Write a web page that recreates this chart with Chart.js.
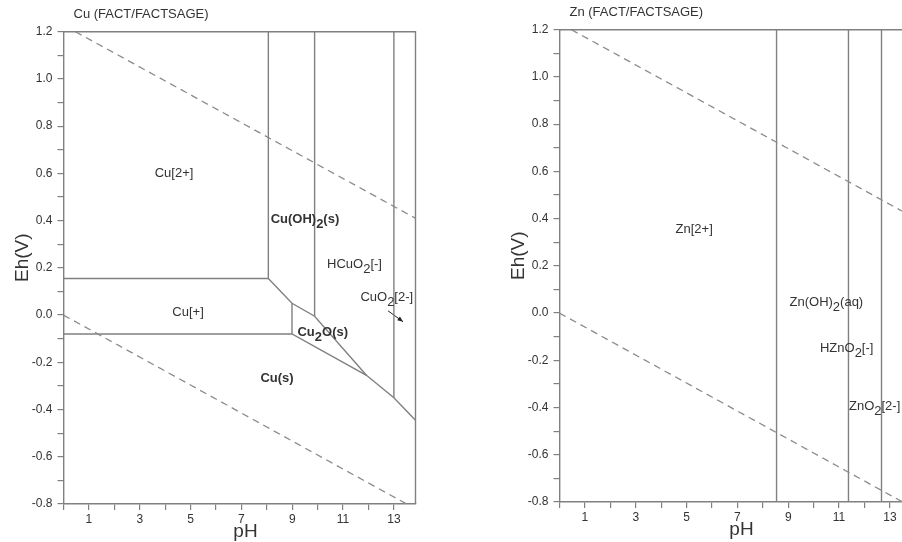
<!DOCTYPE html>
<html>
<head>
<meta charset="utf-8">
<script src="https://cdn.jsdelivr.net/npm/chart.js@4.4.1/dist/chart.umd.min.js"></script>
<style>
  html, body { margin: 0; padding: 0; background: #fff; overflow: hidden; }
  body { width: 902px; height: 542px; position: relative; }
  canvas { position: absolute; }
  #cu { left: 0; top: 0; }
  #zn { left: 496px; top: -2px; }
</style>
</head>
<body>
<canvas id="cu" width="440" height="542"></canvas>
<canvas id="zn" width="440" height="542"></canvas>
<script>
// axis ticks
const xTickLabels = [1, 3, 5, 7, 9, 11, 13];
const yTickLabels = [-0.8, -0.6, -0.4, -0.2, 0.0, 0.2, 0.4, 0.6, 0.8, 1.0, 1.2];

// water stability lines (pH, Eh)
const waterUpper = [[0.47, 1.2], [13.85, 0.41]];
const waterLower = [[0, 0], [13.5, -0.8]];

// Cu boundaries
const cuLine1 = [[8.06, 1.2], [8.06, 0.155], [0, 0.155]];
const cuLine2 = [[9.88, 1.2], [9.88, -0.005]];
const cuLine3 = [[13.0, 1.2], [13.0, -0.35]];
const cuLine4 = [[8.06, 0.155], [8.99, 0.05], [9.88, -0.005], [11.92, -0.255]];
const cuLine5 = [[8.99, 0.05], [8.99, -0.08]];
const cuLine6 = [[0, -0.08], [8.99, -0.08], [11.92, -0.255], [13.0, -0.35], [13.85, -0.445]];
const cuArrow = [[12.77, 0.018], [13.36, -0.028]];

// Cu labels: [pH, Eh, text parts (odd = subscript), bold]
const cuLabels = [
  [4.35, 0.60, ['Cu[2+]'], false],
  [9.5, 0.405, ['Cu(OH)', '2', '(s)'], true],
  [11.45, 0.215, ['HCuO', '2', '[-]'], false],
  [12.72, 0.075, ['CuO', '2', '[2-]'], false],
  [4.9, 0.01, ['Cu[+]'], false],
  [10.2, -0.075, ['Cu', '2', 'O(s)'], true],
  [8.4, -0.27, ['Cu(s)'], true]
];

// Zn boundaries
const znLine1 = [[8.54, 1.2], [8.54, -0.8]];
const znLine2 = [[11.37, 1.2], [11.37, -0.8]];
const znLine3 = [[12.67, 1.2], [12.67, -0.8]];

const znLabels = [
  [5.3, 0.355, ['Zn[2+]'], false],
  [10.5, 0.045, ['Zn(OH)', '2', '(aq)'], false],
  [11.3, -0.15, ['HZnO', '2', '[-]'], false],
  [12.4, -0.395, ['ZnO', '2', '[2-]'], false]
];

const lineColor = '#808080';
const textColor = '#333';
const fontFamily = "'Liberation Sans', Arial, sans-serif";

const toPts = arr => arr.map(([x, y]) => ({ x: x, y: y }));

const solid = arr => ({
  data: toPts(arr), showLine: true, borderColor: lineColor, borderWidth: 1.4,
  pointRadius: 0, fill: false
});
const dashed = arr => ({
  data: toPts(arr), showLine: true, borderColor: '#8c8c8c', borderWidth: 1.3,
  borderDash: [7, 5], pointRadius: 0, fill: false
});

function drawRich(ctx, parts, cx, cy, bold) {
  ctx.font = (bold ? 'bold ' : '') + '13px ' + fontFamily;
  let w = 0;
  parts.forEach(p => { w += ctx.measureText(p).width; });
  let x = cx - w / 2;
  ctx.textAlign = 'left';
  ctx.textBaseline = 'middle';
  parts.forEach((p, i) => {
    ctx.fillText(p, x, i % 2 ? cy + 5 : cy);
    x += ctx.measureText(p).width;
  });
}

const decor = {
  id: 'decor',
  afterDatasetsDraw(chart, args, opts) {
    const ctx = chart.ctx;
    const a = chart.chartArea;
    const xs = chart.scales.x, ys = chart.scales.y;
    ctx.save();
    // frame
    ctx.strokeStyle = lineColor;
    ctx.lineWidth = 1.4;
    ctx.beginPath();
    ctx.moveTo(a.left, a.top);
    ctx.lineTo(a.right, a.top);
    ctx.lineTo(a.right, a.bottom);
    ctx.stroke();
    ctx.fillStyle = textColor;
    // region labels
    opts.labels.forEach(([px, ey, parts, bold]) => {
      drawRich(ctx, parts, xs.getPixelForValue(px), ys.getPixelForValue(ey), bold);
    });
    // arrow head
    if (opts.arrow) {
      const p0 = opts.arrow[0], p1 = opts.arrow[1];
      const x0 = xs.getPixelForValue(p0[0]), y0 = ys.getPixelForValue(p0[1]);
      const x1 = xs.getPixelForValue(p1[0]), y1 = ys.getPixelForValue(p1[1]);
      const ang = Math.atan2(y1 - y0, x1 - x0);
      ctx.fillStyle = '#222';
      ctx.beginPath();
      ctx.moveTo(x1, y1);
      ctx.lineTo(x1 - 6 * Math.cos(ang - 0.4), y1 - 6 * Math.sin(ang - 0.4));
      ctx.lineTo(x1 - 6 * Math.cos(ang + 0.4), y1 - 6 * Math.sin(ang + 0.4));
      ctx.closePath();
      ctx.fill();
    }
    // title
    ctx.fillStyle = textColor;
    ctx.font = '13px ' + fontFamily;
    ctx.textAlign = 'left';
    ctx.textBaseline = 'middle';
    ctx.fillText(opts.title, a.left + 10, a.top - 17);
    // axis titles
    ctx.font = '19px ' + fontFamily;
    ctx.textAlign = 'center';
    ctx.fillText('pH', a.left + 182, a.bottom + 28);
    ctx.save();
    ctx.translate(a.left - 41, a.top + 226);
    ctx.rotate(-Math.PI / 2);
    ctx.fillText('Eh(V)', 0, 0);
    ctx.restore();
    ctx.restore();
  }
};

function makeChart(id, lines, title, labels, arrow) {
  const datasets = [dashed(waterUpper), dashed(waterLower)].concat(lines.map(solid));
  if (arrow) {
    datasets.push({ data: toPts(arrow), showLine: true, borderColor: '#222', borderWidth: 1, pointRadius: 0 });
  }
  const tickFont = { family: fontFamily, size: 12 };
  return new Chart(document.getElementById(id), {
    type: 'scatter',
    data: { datasets: datasets },
    options: {
      responsive: false,
      animation: false,
      events: [],
      layout: { padding: { top: 31.7, right: 24.5, left: 0, bottom: 0 } },
      plugins: {
        legend: { display: false },
        tooltip: { enabled: false },
        decor: { title: title, labels: labels, arrow: arrow }
      },
      scales: {
        x: {
          type: 'linear', min: 0, max: 13.85,
          afterFit: s => { s.height = 38; },
          border: { color: lineColor, width: 1.4 },
          grid: { drawOnChartArea: false, tickLength: 6, color: lineColor, lineWidth: 1.2 },
          ticks: {
            stepSize: 1, autoSkip: false, maxRotation: 0, includeBounds: false,
            maxTicksLimit: 100, padding: 2, color: textColor, font: tickFont,
            callback: v => xTickLabels.includes(v) ? String(v) : ''
          }
        },
        y: {
          type: 'linear', min: -0.8, max: 1.2,
          afterFit: s => { s.width = 63.5; },
          border: { color: lineColor, width: 1.4 },
          grid: { drawOnChartArea: false, tickLength: 6, color: lineColor, lineWidth: 1.2 },
          ticks: {
            stepSize: 0.1, autoSkip: false, includeBounds: false, maxTicksLimit: 100,
            padding: 5, color: textColor, font: tickFont,
            callback: v => {
              const t = yTickLabels.find(l => Math.abs(l - v) < 1e-6);
              return t === undefined ? '' : t.toFixed(1);
            }
          }
        }
      }
    },
    plugins: [decor]
  });
}

makeChart('cu', [cuLine1, cuLine2, cuLine3, cuLine4, cuLine5, cuLine6], 'Cu (FACT/FACTSAGE)', cuLabels, cuArrow);
makeChart('zn', [znLine1, znLine2, znLine3], 'Zn (FACT/FACTSAGE)', znLabels, null);
</script>
</body>
</html>
